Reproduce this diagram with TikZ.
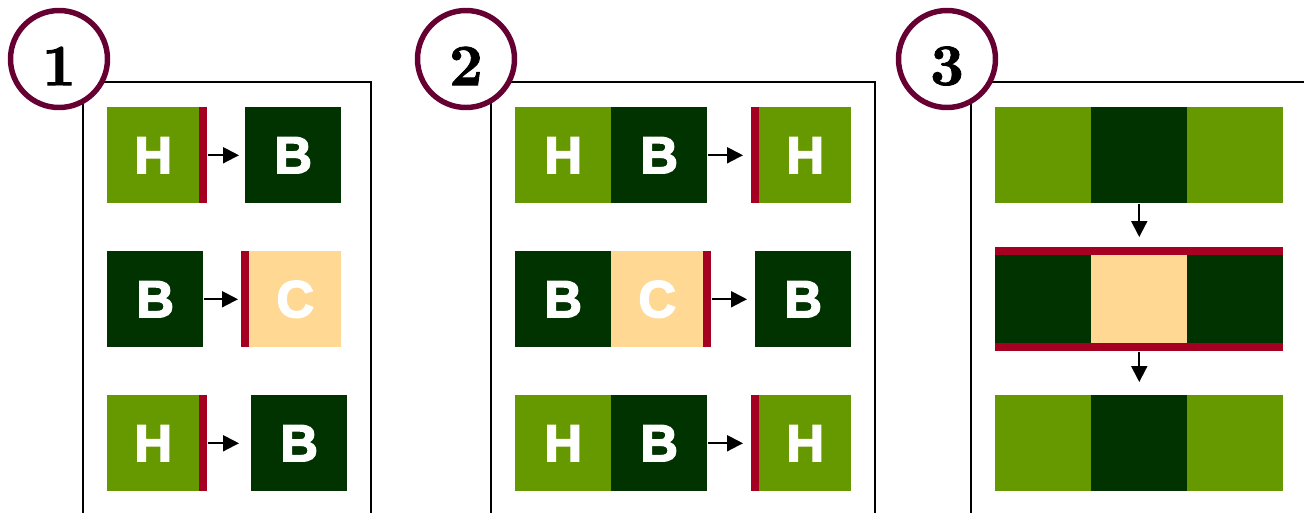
\documentclass[tikz,border=0pt]{standalone}
\usepackage{fontspec}
\newfontfamily\tilefont[FakeBold=3]{Liberation Sans Bold}
\newfontfamily\badgefont[FakeBold=1.5]{lmroman10-bold.otf}
\usetikzlibrary{arrows.meta}
\definecolor{leaf}{HTML}{669900}
\definecolor{forest}{HTML}{003300}
\definecolor{sand}{HTML}{FFD993}
\definecolor{seal}{HTML}{A50021}
\definecolor{plum}{HTML}{660033}
\tikzset{
  tile/.style={anchor=north west, inner sep=0pt, minimum width=72pt,
    minimum height=72pt, text=white,
    font=\tilefont\fontsize{39}{39}\selectfont},
  half/.style={tile, minimum width=69pt},
  bar/.style={anchor=north west, inner sep=0pt, fill=seal,
    minimum width=6pt, minimum height=72pt},
  hbar/.style={bar, minimum width=216pt, minimum height=6pt},
  flow/.style={line width=1.5pt, -{Triangle[length=12pt, width=12pt]}},
  frame/.style={line width=1.5pt},
  badge/.style={draw=plum, line width=4.1pt, fill=white}
}
\begin{document}
\begin{tikzpicture}[x=0.75pt, y=-0.75pt]
  \useasboundingbox (0,0) rectangle (1304,512);

  % frames
  \draw [frame] (83,520) -- (83,82) -- (371,82) -- (371,520);
  \draw [frame] (491,520) -- (491,82) -- (875,82) -- (875,520);
  \draw [frame] (971,520) -- (971,82) -- (1310,82);

  % step 1
  \node [half, fill=leaf] (h11) at (107,107) {H};
  \node [bar] (r11) at (199,107) {};
  \node [tile, fill=forest] (b11) at (245,107) {B};
  \draw [flow, shorten >=4.5pt] (r11.east) -- (b11.west);

  \node [tile, fill=forest] (b12) at (107,251) {B};
  \node [bar] (r12) at (241,251) {};
  \node [half, fill=sand] (c12) at (249,251) {C};
  \draw [flow, shorten >=2.25pt] (b12.east) -- (r12.west);

  \node [half, fill=leaf] (h13) at (107,395) {H};
  \node [bar] (r13) at (199,395) {};
  \node [tile, fill=forest] (b13) at (251,395) {B};
  \draw [flow, shorten >=9pt] (r13.east) -- (b13.west);

  % step 2
  \node [tile, fill=leaf] (h21) at (515,107) {H};
  \node [tile, fill=forest] (b21) at (611,107) {B};
  \node [bar] (r21) at (751,107) {};
  \node [half, fill=leaf] (n21) at (759,107) {H};
  \draw [flow, shorten >=6pt] (b21.east) -- (r21.west);

  \node [tile, fill=forest] (b22) at (515,251) {B};
  \node [half, fill=sand] (c22) at (611,251) {C};
  \node [bar] (r22) at (703,251) {};
  \node [tile, fill=forest] (n22) at (755,251) {B};
  \draw [flow, shorten >=6pt] (r22.east) -- (n22.west);

  \node [tile, fill=leaf] (h23) at (515,395) {H};
  \node [tile, fill=forest] (b23) at (611,395) {B};
  \node [bar] (r23) at (751,395) {};
  \node [half, fill=leaf] (n23) at (759,395) {H};
  \draw [flow, shorten >=6pt] (b23.east) -- (r23.west);

  % step 3
  \node [tile, fill=leaf] (g31) at (995,107) {};
  \node [tile, fill=forest] (d31) at (1091,107) {};
  \node [tile, fill=leaf] (k31) at (1187,107) {};

  \node [hbar] (top32) at (995,247) {};
  \node [tile, fill=forest, minimum height=66pt] (d32) at (995,255) {};
  \node [tile, fill=sand, minimum height=66pt] (c32) at (1091,255) {};
  \node [tile, fill=forest, minimum height=66pt] (k32) at (1187,255) {};
  \node [hbar] (bot32) at (995,343) {};

  \node [tile, fill=leaf] (g33) at (995,395) {};
  \node [tile, fill=forest] (d33) at (1091,395) {};
  \node [tile, fill=leaf] (k33) at (1187,395) {};

  \draw [flow, shorten >=7.5pt] (d31.south) -- (top32.north);
  \draw [flow, shorten >=9.75pt] (bot32.south) -- (d33.north);

  % step badges
  \foreach \num/\cx in {1/59, 2/466, 3/947} {
    \draw [badge] (\cx,59) circle (48.5);
    \node [font=\badgefont\fontsize{44}{44}\selectfont] (s\num) at (\cx,66) {\num};
  }
\end{tikzpicture}
\end{document}
